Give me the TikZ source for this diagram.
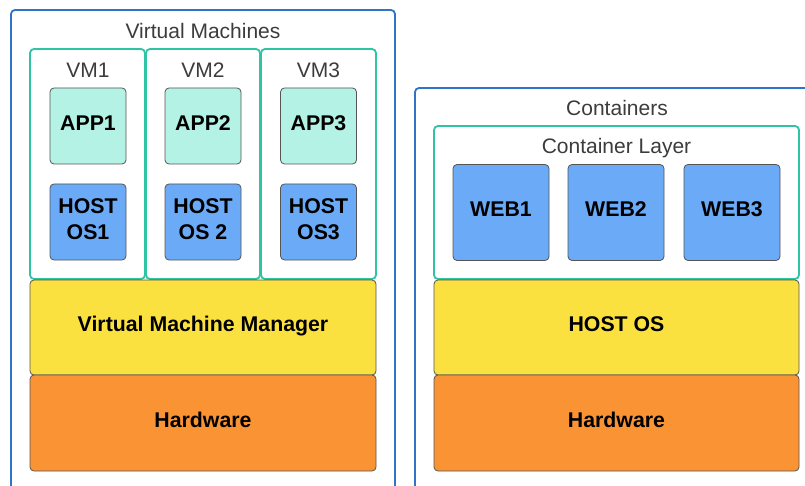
\documentclass[tikz,border=0pt]{standalone}
\usepackage{fontspec}
\setmainfont{Liberation Sans}
\definecolor{outerblue}{HTML}{2F74C6}
\definecolor{tealline}{HTML}{2EC4A4}
\definecolor{mint}{HTML}{B3F2E4}
\definecolor{skyblue}{HTML}{6AAAF6}
\definecolor{sun}{HTML}{FBE140}
\definecolor{amber}{HTML}{FA9333}
\definecolor{edge}{HTML}{555555}
\definecolor{titlegrey}{HTML}{3C3C3C}
\tikzset{
  x=1pt, y=-1pt,
  outerbox/.style={draw=outerblue, line width=1.8pt, rounded corners=4pt, inner sep=0pt},
  groupbox/.style={draw=tealline, line width=1.8pt, rounded corners=4pt, inner sep=0pt},
  cellfont/.style={font=\fontsize{21.3}{26}\selectfont\bfseries, text=black},
  cell/.style={draw=edge, line width=0.8pt, rounded corners=4pt, cellfont,
               align=center, inner sep=0pt},
  % a deeper text box lifts the label a little above the middle of its box
  oneline/.style={text height=15.5pt, text depth=#1},
  oneline/.default=8pt,
  appcell/.style={cell, oneline=6pt, fill=mint, minimum width=76pt, minimum height=76pt},
  oscell/.style={cell, fill=skyblue, minimum width=76pt, minimum height=76pt},
  oslabel/.style={cellfont, align=center, inner sep=0pt, yshift=3pt},
  webcell/.style={cell, oneline, fill=skyblue, minimum width=96pt, minimum height=96pt},
  mgrlayer/.style={cell, oneline, fill=sun, minimum width=346pt, minimum height=95pt},
  hwlayer/.style={cell, oneline=7.5pt, fill=amber, minimum width=346pt, minimum height=96pt},
  title/.style={font=\fontsize{21}{24}\selectfont, text=titlegrey, inner sep=0pt, anchor=base},
}
\begin{document}
\begin{tikzpicture}
\useasboundingbox (0,0) rectangle (805,486);
\fill[white] (0,0) rectangle (805,486);

% ---------- virtual machines ----------
\node[outerbox, minimum width=384pt, minimum height=500pt] (vmouter) at (203,260) {};
\node[title] (vmtitle) at (203,39) {Virtual Machines};

\node[groupbox, minimum width=115pt, minimum height=230pt] (vm1) at (87.5,164) {};
\node[groupbox, minimum width=114pt, minimum height=230pt] (vm2) at (203,164) {};
\node[groupbox, minimum width=115pt, minimum height=230pt] (vm3) at (318.5,164) {};

\node[title] (vm1t) at (88,78) {VM1};
\node[title] (vm2t) at (203,78) {VM2};
\node[title] (vm3t) at (318.5,78) {VM3};

\node[appcell] (app1) at (88,126) {APP1};
\node[appcell] (app2) at (203,126) {APP2};
\node[appcell] (app3) at (318.5,126) {APP3};

\node[oscell, label={[oslabel]center:{HOST\\OS1}}] (os1) at (88,222) {};
\node[oscell, label={[oslabel]center:{HOST\\OS 2}}] (os2) at (203,222) {};
\node[oscell, label={[oslabel]center:{HOST\\OS3}}] (os3) at (318.5,222) {};

\node[mgrlayer] (vmm) at (203,327.5) {Virtual Machine Manager};
\node[hwlayer] (vmhw) at (203,423) {Hardware};

% ---------- containers ----------
\node[outerbox, minimum width=420pt, minimum height=430pt] (ctouter) at (625,303) {};
\node[title] (cttitle) at (617,116) {Containers};

\node[groupbox, minimum width=365pt, minimum height=153pt] (ctlayer) at (616.5,202.5) {};
\node[title] (ctlayert) at (616.5,154) {Container Layer};

\node[webcell] (web1) at (501,212.5) {WEB1};
\node[webcell] (web2) at (616,212.5) {WEB2};
\node[webcell] (web3) at (732,212.5) {WEB3};

\node[mgrlayer, minimum width=365pt] (hostos) at (616.5,327.5) {HOST OS};
\node[hwlayer, minimum width=365pt] (cthw) at (616.5,423) {Hardware};
\end{tikzpicture}
\end{document}
